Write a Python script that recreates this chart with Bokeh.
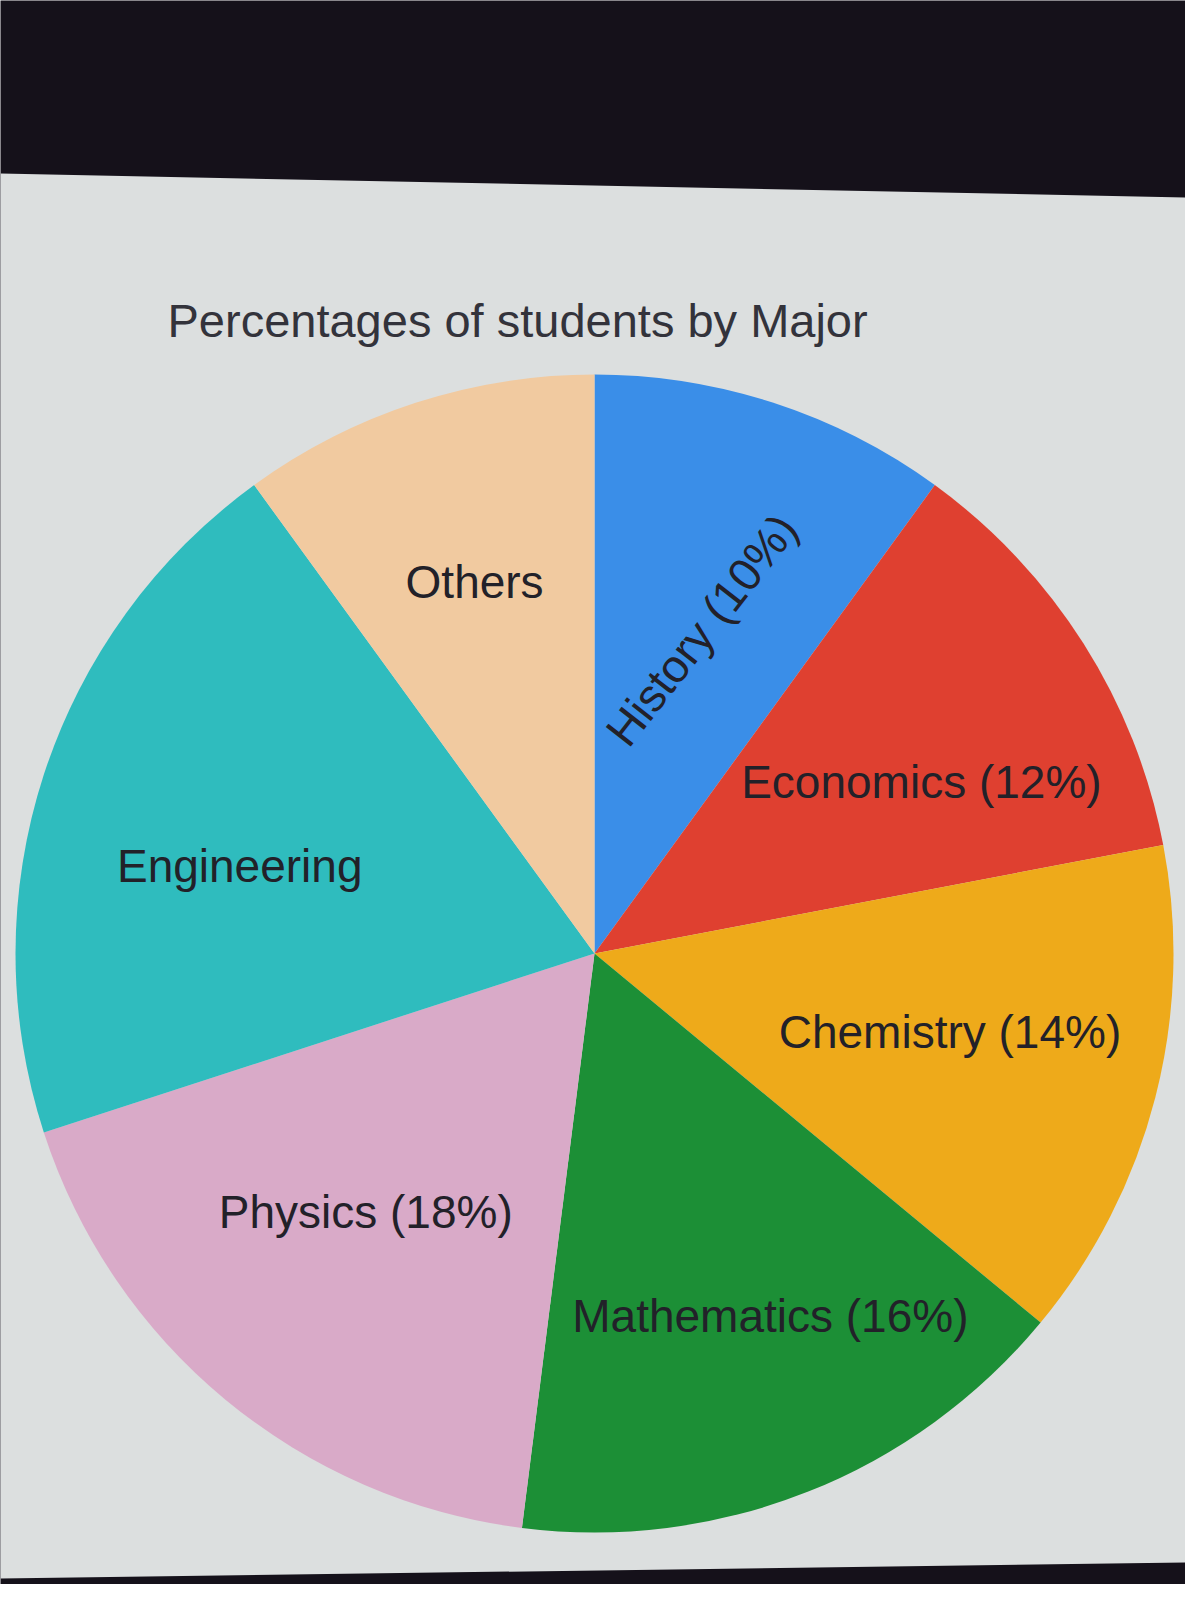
import math
from bokeh.plotting import figure
from bokeh.models import Range1d, Label, ColumnDataSource
from bokeh.embed import file_html
from bokeh.resources import INLINE

# ---- data ----
majors = ["History", "Economics", "Chemistry", "Mathematics", "Physics", "Engineering", "Others"]
percents = [10, 12, 14, 16, 18, 20, 10]
show_pct = [True, True, True, True, True, False, False]
colors = ["#3a8ee8", "#df4030", "#eeaa1a", "#1c8f36", "#d9aac8", "#2fbcbe", "#f1caa0"]

# ---- layout (pixels) ----
W, H = 1185, 1584
cx, cy, R = 594, 631, 579
label_dx, label_dy = -5, 7
label_r = [0.58, 0.64, 0.64, 0.71, 0.60, 0.62, 0.66]
label_shift_deg = [1.5, 6.0, -1.0, -4.5, 0.5, -5.0, 0.5]
label_angle_deg = [52, 0, 0, 0, 0, 0, 0]
FONT = "Liberation Sans"

p = figure(width=W, height=H, output_backend="svg", toolbar_location=None,
           x_range=Range1d(0, W), y_range=Range1d(0, H),
           x_axis_location=None, y_axis_location=None, min_border=0,
           background_fill_color="#15111a", border_fill_color="#15111a",
           outline_line_color=None)
p.grid.visible = False

# screen area of the photo
p.patch([0, W, W, 0], [H - 173, H - 197, H - 1562, H - 1578],
        fill_color="#dcdfdf", line_color=None)

total = sum(percents)
starts, ends, mids = [], [], []
cum = 0.0
for v in percents:
    a0 = math.pi / 2 - 2 * math.pi * cum / total
    cum += v
    a1 = math.pi / 2 - 2 * math.pi * cum / total
    starts.append(a0)
    ends.append(a1)
    mids.append((a0 + a1) / 2)

src = ColumnDataSource(dict(start=starts, end=ends, color=colors, major=majors))
p.wedge(x=cx, y=cy, radius=R, start_angle="start", end_angle="end",
        direction="clock", fill_color="color", line_color=None, source=src)

for i, m in enumerate(majors):
    txt = f"{m} ({percents[i]}%)" if show_pct[i] else m
    a = mids[i] - math.radians(label_shift_deg[i])
    r = label_r[i] * R
    p.add_layout(Label(x=cx + label_dx + r * math.cos(a), y=cy + label_dy + r * math.sin(a),
                       text=txt, text_align="center", text_baseline="middle",
                       angle=math.radians(label_angle_deg[i]),
                       text_font=FONT, text_font_size="46px", text_color="#222129"))

p.add_layout(Label(x=167, y=H - 320, text="Percentages of students by Major",
                   text_align="left", text_baseline="alphabetic",
                   text_font=FONT, text_font_size="47px", text_color="#33333b"))

open("out.html", "w").write(file_html(p, INLINE))
